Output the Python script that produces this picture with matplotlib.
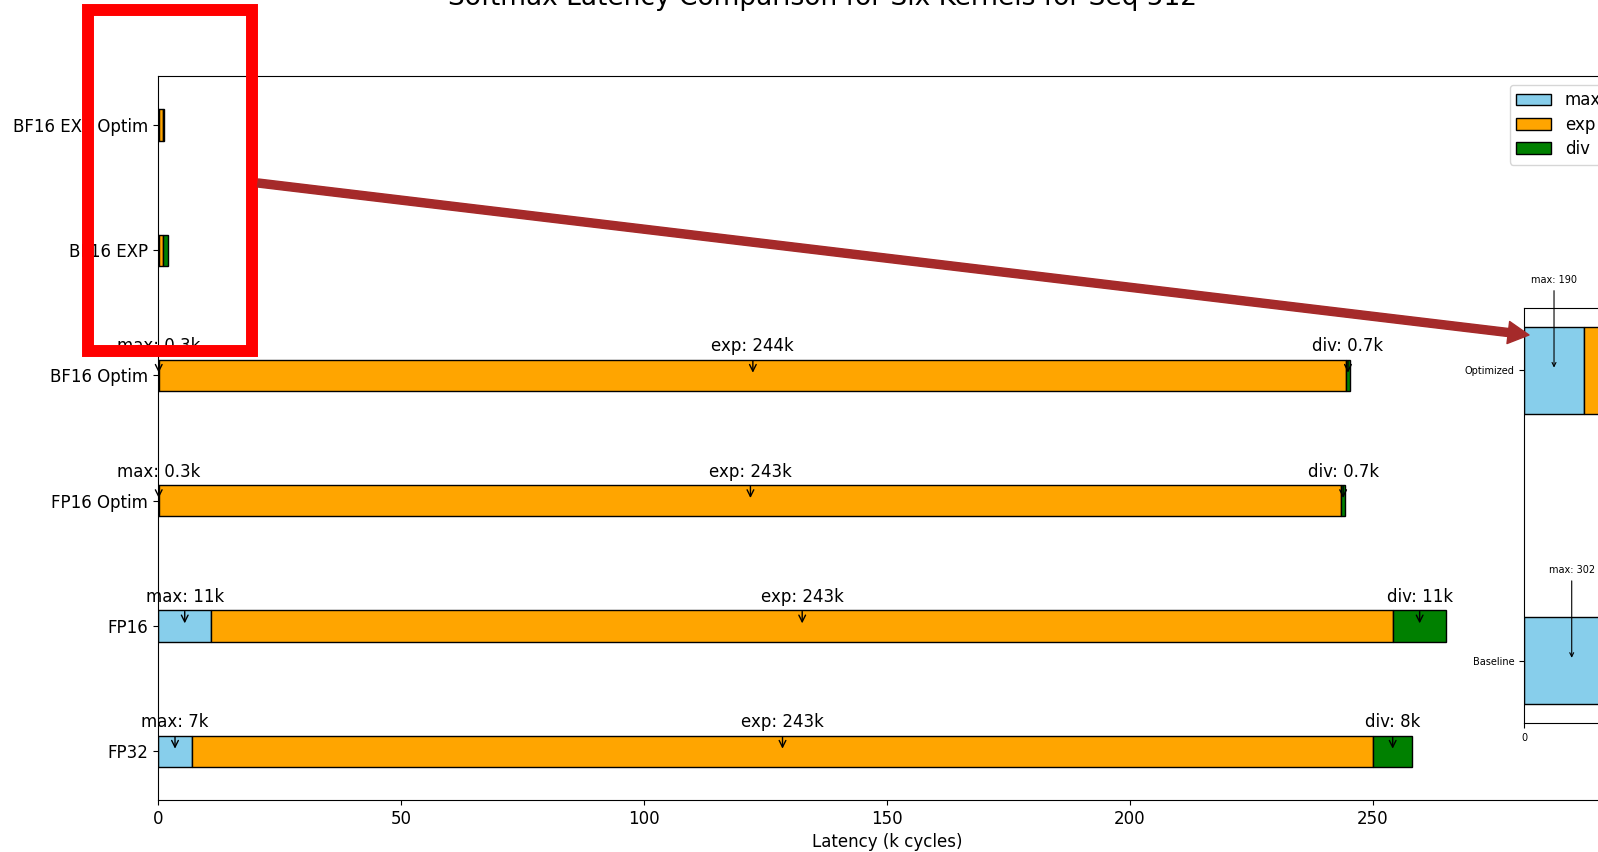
import numpy as np
import matplotlib.pyplot as plt
from matplotlib.patches import Rectangle, FancyArrowPatch

# latency per stage, in k cycles (bottom row first)
kernels = ["FP32", "FP16", "FP16 Optim", "BF16 Optim", "BF16 EXP", "BF16 EXP Optim"]
max_k = [7.0, 11.0, 0.3, 0.3, 0.302, 0.19]
exp_k = [243.0, 243.1, 243.2, 244.2, 0.65, 0.9]
div_k = [8.1, 11.0, 0.7, 0.7, 1.2, 0.06]

# zoomed view of the two BF16 EXP kernels, in cycles
zoom_labels = ["Baseline", "Optimized"]
zoom_max = [302, 190]
zoom_exp = [650, 900]
zoom_div = [1200, 60]

stages = ["max", "exp", "div"]
colors = ["skyblue", "orange", "green"]

W, H = 1598, 852


def fx(px):
    return px / W


def fy(py):
    return 1 - py / H


def fmt_k(v):
    return f"{v:.1f}k" if v < 1 else f"{v:.0f}k"


fig = plt.figure(figsize=(W / 100, H / 100), dpi=100)
ax = fig.add_axes([fx(158), fy(800), fx(1616) - fx(158), fy(76.3) - fy(800)])

y = np.arange(len(kernels))
segs = [np.array(max_k), np.array(exp_k), np.array(div_k)]
left = np.zeros(len(kernels))
for name, vals, c in zip(stages, segs, colors):
    ax.barh(y, vals, left=left, height=0.25, color=c, edgecolor="black", label=name)
    for i, v in enumerate(vals):
        if max_k[i] + exp_k[i] + div_k[i] < 10:
            continue
        ax.annotate(f"{name}: {fmt_k(v)}", xy=(left[i] + v / 2, i), xytext=(0, 21),
                    textcoords="offset points", ha="center", va="center", fontsize=12,
                    arrowprops=dict(arrowstyle="->", color="black", lw=1))
    left = left + vals

ax.set_yticks(y)
ax.set_yticklabels(kernels)
ax.set_xlim(0, 300)
ax.set_xlabel("Latency (k cycles)", fontsize=12)
ax.tick_params(labelsize=12)
ax.legend(loc="upper right", fontsize=12, handlelength=2.1, labelspacing=0.38)

fig.text(fx(822), fy(5), "Softmax Latency Comparison for Six Kernels for Seq 512",
         ha="center", va="baseline", fontsize=19)

# inset with the small kernels in cycles
ins_w = 950
ins = fig.add_axes([fx(1524), fy(723), ins_w / W, fy(308) - fy(723)])
zy = np.arange(len(zoom_labels))
zsegs = [np.array(zoom_max), np.array(zoom_exp), np.array(zoom_div)]
zleft = np.zeros(len(zoom_labels))
for name, vals, c in zip(stages, zsegs, colors):
    ins.barh(zy, vals, left=zleft, height=0.3, color=c, edgecolor="black")
    for i, v in enumerate(vals):
        if name != "max":
            continue
        ins.annotate(f"{name}: {v}", xy=(zleft[i] + v / 2, i), xytext=(0, 65),
                     textcoords="offset points", ha="center", va="center", fontsize=7,
                     arrowprops=dict(arrowstyle="->", color="black", lw=0.8))
    zleft = zleft + vals
ins.set_yticks(zy)
ins.set_yticklabels(zoom_labels)
ins.set_xlim(0, ins_w / 0.316)
ins.tick_params(labelsize=7)

# highlight box and pointer to the inset
fig.add_artist(Rectangle((fx(88), fy(351)), fx(252) - fx(88), fy(10) - fy(351),
                         transform=fig.transFigure, fill=False, edgecolor="red", lw=8.6))
fig.add_artist(FancyArrowPatch((fx(258), fy(183)), (fx(1529), fy(335)),
                               transform=fig.transFigure, mutation_scale=1,
                               arrowstyle="simple,head_width=16,head_length=15,tail_width=5.8",
                               color="brown", shrinkA=0, shrinkB=0))

fig.savefig("out.png", dpi=100)
